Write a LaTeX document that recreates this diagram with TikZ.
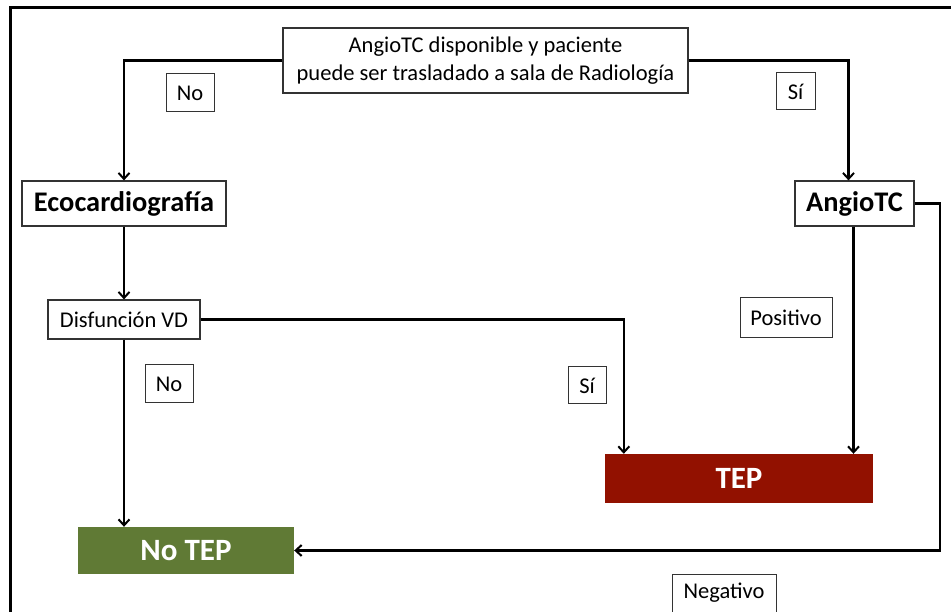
\documentclass[tikz,border=0pt]{standalone}
\usepackage{fontspec}
\setmainfont{Carlito}
\usetikzlibrary{arrows.meta}
\definecolor{tepred}{HTML}{921100}
\definecolor{noteg}{HTML}{607A35}
\tikzset{
  plainbox/.style={draw=black!80, line width=1.2pt, fill=white, inner sep=0pt,
    font=\fontsize{22.5}{28}\selectfont, align=center},
  headbox/.style={plainbox, font=\bfseries\fontsize{28.4}{32}\selectfont},
  tagbox/.style={draw=black!80, line width=1pt, fill=white, inner sep=0pt,
    font=\fontsize{22.5}{26}\selectfont},
  endbox/.style={inner sep=0pt, text=white, font=\bfseries\fontsize{31}{34}\selectfont},
  flow/.style={line width=2.2pt, -{Straight Barb[length=6pt,width=11pt,line width=2pt]}},
}
\begin{document}
\begin{tikzpicture}[x=1pt, y=-1pt]
\useasboundingbox (0,0) rectangle (951,612);
\clip (0,0) rectangle (951,612);
\fill[white] (0,0) rectangle (951,612);
% surrounding frame
\draw[line width=3pt] (10,8) rectangle (1100,800);

% boxes
\node[plainbox, minimum width=405pt, minimum height=65pt] (top) at (485.5,60.5)
  {AngioTC disponible y paciente\\puede ser trasladado a sala de Radiología};
\node[headbox, minimum width=204pt, minimum height=45pt] (eco) at (124,203.5) {Ecocardiografía};
\node[headbox, minimum width=119pt, minimum height=45pt] (angio) at (854.5,203.5) {AngioTC};
\node[plainbox, minimum width=152pt, minimum height=39pt] (disf) at (124,319.5) {Disfunción VD};
\node[endbox, fill=noteg, minimum width=216pt, minimum height=47pt] (notep) at (186,550.5) {No TEP};
\node[endbox, fill=tepred, minimum width=268pt, minimum height=49pt] (tep) at (739,478.5) {TEP};

% branch labels
\node[tagbox, minimum width=48pt, minimum height=38pt] (no1) at (190,93) {No};
\node[tagbox, minimum width=39pt, minimum height=37pt] (si1) at (795.5,91.5) {Sí};
\node[tagbox, minimum width=48pt, minimum height=38pt] (no2) at (169,384) {No};
\node[tagbox, minimum width=38pt, minimum height=37pt] (si2) at (587,385.5) {Sí};
\node[tagbox, minimum width=92pt, minimum height=40pt] (pos) at (786,318) {Positivo};
\node[tagbox, minimum width=104pt, minimum height=38pt] (neg) at (724,593) {Negativo};

\coordinate (turn) at (940,549);

% connectors
\draw[flow] (top.west) -| (eco.north);
\draw[flow] (top.east) -| ([xshift=-6pt]angio.north);
\draw[flow] (eco.south) -- (disf.north);
\draw[flow] (disf.east) -| ([xshift=19pt]tep.north west);
\draw[flow] (disf.south) -- (disf.south |- notep.north);
\draw[flow] ([xshift=-1pt]angio.south) -- ([xshift=-1pt]angio.south |- tep.north);
\draw[flow] (angio.east) -| (turn) |- (notep.east);
\end{tikzpicture}
\end{document}
